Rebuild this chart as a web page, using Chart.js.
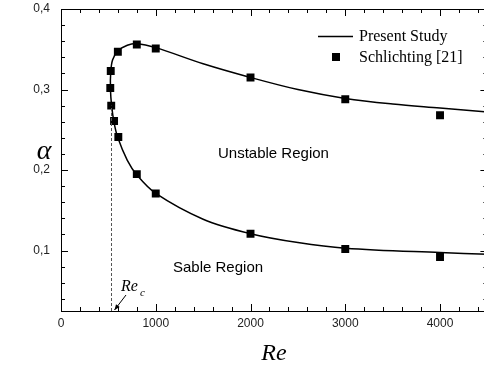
<!DOCTYPE html>
<html>
<head>
<meta charset="utf-8">
<script src="https://cdn.jsdelivr.net/npm/chart.js@4"></script>
<style>
  html, body { margin: 0; padding: 0; background: #fff; overflow: hidden; }
  #wrap { width: 493px; height: 366px; }
</style>
</head>
<body>
<div id="wrap"><canvas id="stabChart" width="493" height="366"></canvas></div>
<script>
// ===== DATA =====
// Present Study: neutral curve, lower branch (right -> nose) then upper branch (nose -> right)
const curveRe    = [4500, 4000, 3000, 2500, 2000, 1500, 1000, 800, 700, 600, 560, 535, 522, 525, 545, 600, 700, 800, 1000, 1500, 2000, 2500, 3000, 3500, 4000, 4500];
const curveAlpha = [0.0955, 0.0975, 0.103, 0.110, 0.121, 0.139, 0.171, 0.194, 0.212, 0.240, 0.259, 0.279, 0.300, 0.322, 0.337, 0.348, 0.355, 0.357, 0.352, 0.332, 0.315, 0.300, 0.289, 0.282, 0.277, 0.272];

// Schlichting [21]
const schRe    = [520, 525, 530, 560, 605, 600, 800, 1000, 800, 1000, 2000, 3000, 4000, 2000, 3000, 4000];
const schAlpha = [0.302, 0.323, 0.280, 0.261, 0.241, 0.347, 0.356, 0.351, 0.195, 0.171, 0.315, 0.288, 0.268, 0.121, 0.102, 0.092];

const xTicks = [0, 1000, 2000, 3000, 4000];
const yTicks = [0.1, 0.2, 0.3, 0.4];
const xMinorStep = 200;
const yMinorStep = 0.02;

const reCritical = 530;
const reCriticalTop = 0.28;

// ===== FRAME / TICKS / ANNOTATIONS =====
const decorations = {
    id: 'decorations',
    afterDraw(chart) {
        const ctx = chart.ctx;
        const { left, right, top, bottom } = chart.chartArea;
        const xs = chart.scales.x, ys = chart.scales.y;

        ctx.save();
        ctx.strokeStyle = '#000';
        ctx.lineWidth = 1;
        ctx.strokeRect(left + 0.5, top + 0.5, right - left - 1, bottom - top);

        // inward ticks on all four sides
        ctx.beginPath();
        for (let v = 0; v <= xs.max + 1e-9; v += xMinorStep) {
            const major = xTicks.some(t => Math.abs(t - v) < 1e-6);
            const len = major ? 7 : 4;
            const px = Math.round(xs.getPixelForValue(v)) + 0.5;
            ctx.moveTo(px, bottom); ctx.lineTo(px, bottom - len);
            ctx.moveTo(px, top); ctx.lineTo(px, top + len);
        }
        for (let v = 0.04; v <= ys.max + 1e-9; v += yMinorStep) {
            const major = yTicks.some(t => Math.abs(t - v) < 1e-6);
            const len = major ? 7 : 4;
            const py = Math.round(ys.getPixelForValue(v)) + 0.5;
            ctx.moveTo(left, py); ctx.lineTo(left + len, py);
            ctx.moveTo(right, py); ctx.lineTo(right - len, py);
        }
        ctx.stroke();

        // critical Reynolds dashed line
        const xc = Math.round(xs.getPixelForValue(reCritical)) + 0.5;
        ctx.strokeStyle = '#555';
        ctx.setLineDash([3, 2]);
        ctx.beginPath();
        ctx.moveTo(xc, bottom);
        ctx.lineTo(xc, ys.getPixelForValue(reCriticalTop));
        ctx.stroke();
        ctx.setLineDash([]);

        // Re_c label + arrow
        ctx.fillStyle = '#000';
        ctx.strokeStyle = '#000';
        ctx.textBaseline = 'alphabetic';
        ctx.textAlign = 'left';
        ctx.font = 'italic 16px "Liberation Serif"';
        ctx.fillText('Re', 121, 291);
        ctx.font = 'italic 11px "Liberation Serif"';
        ctx.fillText('c', 140, 296);
        const ax0 = 126, ay0 = 295, ax1 = xc + 3, ay1 = bottom - 1;
        ctx.lineWidth = 1;
        ctx.beginPath(); ctx.moveTo(ax0, ay0); ctx.lineTo(ax1, ay1); ctx.stroke();
        const ang = Math.atan2(ay1 - ay0, ax1 - ax0);
        ctx.beginPath();
        ctx.moveTo(ax1, ay1);
        ctx.lineTo(ax1 - 6 * Math.cos(ang - 0.4), ay1 - 6 * Math.sin(ang - 0.4));
        ctx.lineTo(ax1 - 6 * Math.cos(ang + 0.4), ay1 - 6 * Math.sin(ang + 0.4));
        ctx.closePath(); ctx.fill();

        // region labels
        ctx.font = '15px "Liberation Sans"';
        ctx.textBaseline = 'middle';
        ctx.fillText('Unstable Region', 218, 154);
        ctx.fillText('Sable Region', 173, 268);

        // legend
        ctx.font = '16px "Liberation Serif"';
        ctx.lineWidth = 1.5;
        ctx.beginPath(); ctx.moveTo(318, 36.5); ctx.lineTo(353, 36.5); ctx.stroke();
        ctx.fillText(chart.data.datasets[1].label, 359, 37);
        ctx.fillRect(332, 53, 8, 8);
        ctx.fillText(chart.data.datasets[0].label, 359, 58);

        // axis titles
        ctx.textAlign = 'center';
        ctx.font = 'italic 28px "Liberation Serif"';
        ctx.fillText('\u03b1', 44, 152);
        ctx.font = 'italic 24px "Liberation Serif"';
        ctx.textBaseline = 'alphabetic';
        ctx.fillText('Re', 274, 360);
        ctx.restore();
    }
};

// ===== CHART =====
new Chart(document.getElementById('stabChart'), {
    type: 'scatter',
    data: {
        datasets: [{
            label: 'Schlichting [21]',
            data: schRe.map((r, i) => ({ x: r, y: schAlpha[i] })),
            pointStyle: 'rect',
            pointRadius: 5.6,
            backgroundColor: '#000',
            borderColor: '#000',
            borderWidth: 0,
            showLine: false,
        }, {
            label: 'Present Study',
            data: curveRe.map((r, i) => ({ x: r, y: curveAlpha[i] })),
            showLine: true,
            tension: 0.35,
            pointRadius: 0,
            borderColor: '#000',
            borderWidth: 1.5,
        }]
    },
    options: {
        responsive: false,
        animation: false,
        layout: { padding: { top: 9, left: 0, right: 1.5, bottom: 0 } },
        plugins: {
            legend: { display: false },
            tooltip: { enabled: false }
        },
        scales: {
            x: {
                type: 'linear',
                min: 0,
                max: 4500,
                afterBuildTicks: s => { s.ticks = xTicks.map(v => ({ value: v })); },
                afterFit: s => { s.height = 55; },
                grid: { display: false, drawTicks: false },
                border: { display: false },
                ticks: {
                    padding: 5,
                    color: '#222',
                    font: { family: 'Liberation Sans', size: 12 },
                    maxRotation: 0,
                    callback: v => String(v)
                }
            },
            y: {
                type: 'linear',
                min: 0.025,
                max: 0.4,
                afterBuildTicks: s => { s.ticks = yTicks.map(v => ({ value: v })); },
                afterFit: s => { s.width = 61; s.paddingTop = 0; s.paddingBottom = 0; },
                grid: { display: false, drawTicks: false },
                border: { display: false },
                ticks: {
                    padding: 11,
                    color: '#222',
                    font: { family: 'Liberation Sans', size: 12 },
                    callback: v => v.toFixed(1).replace('.', ',')
                }
            }
        }
    },
    plugins: [decorations]
});
</script>
</body>
</html>
